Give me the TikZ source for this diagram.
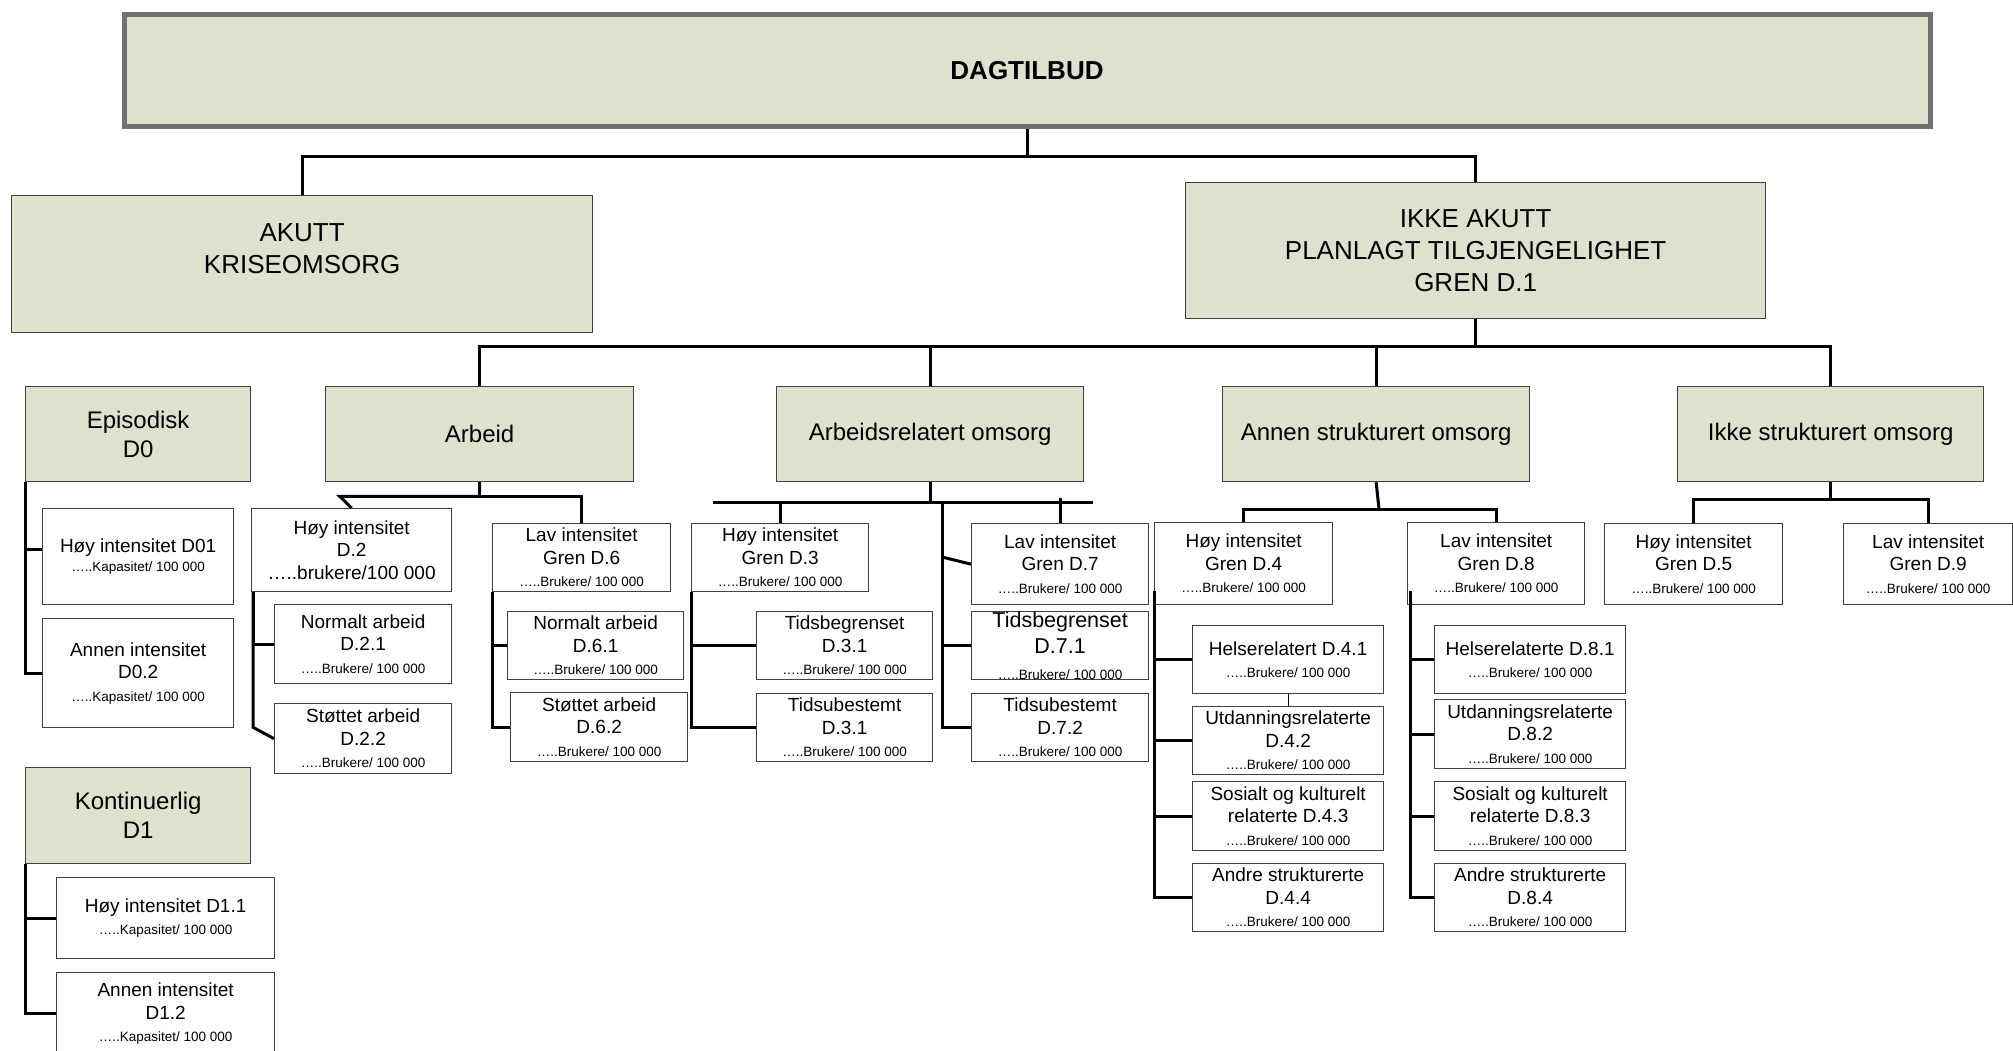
\documentclass[tikz,border=0pt]{standalone}
\usepackage{fontspec}
\setmainfont{Liberation Sans}
\definecolor{boxfill}{RGB}{222,226,204}
\definecolor{bord}{RGB}{64,64,64}
\definecolor{topbord}{RGB}{112,112,112}
\newcommand\smalltxt[1]{{\fontsize{13.5}{16}\selectfont #1}}
\newcommand\bx[7]{\node[#1, minimum width={#5-#3}, minimum height={#6-#4}, anchor=north west] (#2) at (#3,#4) {#7};}
\begin{document}
\begin{tikzpicture}[x=1pt,y=-1pt,
  topbox/.style={fill=boxfill, draw=topbord, line width=5pt, inner sep=0pt, font=\fontsize{26}{30}\selectfont\bfseries},
  gbig/.style={fill=boxfill, draw=bord, line width=1.3pt, inner sep=0pt, align=center, font=\fontsize{26}{32}\selectfont},
  gmid/.style={fill=boxfill, draw=bord, line width=1.3pt, inner sep=0pt, align=center, font=\fontsize{24}{29}\selectfont},
  wbox/.style={fill=white, draw=bord, line width=1.3pt, inner sep=0pt, align=center, font=\fontsize{19}{22.5}\selectfont},
  conn/.style={line width=3pt, black},
  thinconn/.style={line width=1pt, black}]
\useasboundingbox (0,0) rectangle (2013,1051);

% level 1
\bx{topbox}{dag}{121.5}{12.5}{1927.5}{124.5}{DAGTILBUD}
% level 2
\bx{gbig}{akutt}{11}{195}{592}{332}{AKUTT\\KRISEOMSORG\\\phantom{A}}
\bx{gbig}{ikke}{1185}{182}{1765}{318}{IKKE AKUTT\\PLANLAGT TILGJENGELIGHET\\GREN D.1}
% level 3
\bx{gmid}{epi}{25}{386}{250}{481}{Episodisk\\D0}
\bx{gmid}{arbeid}{325}{386}{633}{481}{Arbeid}
\bx{gmid}{arbrel}{776}{386}{1083}{481}{Arbeidsrelatert omsorg}
\bx{gmid}{annen}{1222}{386}{1529}{481}{Annen strukturert omsorg}
\bx{gmid}{ikkes}{1677}{386}{1983}{481}{Ikke strukturert omsorg}
\bx{gmid}{kont}{25}{767}{250}{863}{Kontinuerlig\\D1}
% level 4: episodisk / kontinuerlig
\bx{wbox}{d01}{42}{508}{233}{604}{Høy intensitet D01\\[-3pt]\smalltxt{…..Kapasitet/ 100 000}}
\bx{wbox}{d02}{42}{618}{233}{727}{Annen intensitet\\D0.2\\\smalltxt{…..Kapasitet/ 100 000}}
\bx{wbox}{d11}{56}{877}{274}{958}{Høy intensitet D1.1\\\smalltxt{…..Kapasitet/ 100 000}}
\bx{wbox}{d12}{56}{972}{274}{1054}{Annen intensitet\\D1.2\\\smalltxt{…..Kapasitet/ 100 000}}
% arbeid
\bx{wbox}{d2}{251}{508}{451}{591}{Høy intensitet\\D.2\\…..brukere/100 000}
\bx{wbox}{d21}{274}{604}{451}{683}{Normalt arbeid\\D.2.1\\\smalltxt{…..Brukere/ 100 000}}
\bx{wbox}{d22}{274}{703}{451}{773}{Støttet arbeid\\D.2.2\\\smalltxt{…..Brukere/ 100 000}}
\bx{wbox}{d6}{492}{523}{670}{591}{Lav intensitet\\Gren D.6\\\smalltxt{…..Brukere/ 100 000}}
\bx{wbox}{d61}{507}{611}{683}{679}{Normalt arbeid\\D.6.1\\\smalltxt{…..Brukere/ 100 000}}
\bx{wbox}{d62}{510}{692}{687}{761}{Støttet arbeid\\D.6.2\\\smalltxt{…..Brukere/ 100 000}}
% arbeidsrelatert
\bx{wbox}{d3}{691}{523}{868}{591}{Høy intensitet\\Gren D.3\\\smalltxt{…..Brukere/ 100 000}}
\bx{wbox}{d31}{756}{611}{932}{679}{Tidsbegrenset\\D.3.1\\\smalltxt{…..Brukere/ 100 000}}
\bx{wbox}{d32}{756}{693}{932}{761}{Tidsubestemt\\D.3.1\\\smalltxt{…..Brukere/ 100 000}}
\bx{wbox}{d7}{971}{523}{1148}{604}{Lav intensitet\\Gren D.7\\\smalltxt{…..Brukere/ 100 000}}
\bx{wbox, font=\fontsize{21.5}{26}\selectfont}{d71}{971}{611}{1148}{679}{Tidsbegrenset\\D.7.1\\\smalltxt{…..Brukere/ 100 000}}
\bx{wbox}{d72}{971}{693}{1148}{761}{Tidsubestemt\\D.7.2\\\smalltxt{…..Brukere/ 100 000}}
% annen strukturert
\bx{wbox}{d4}{1154}{522}{1332}{604}{Høy intensitet\\Gren D.4\\\smalltxt{…..Brukere/ 100 000}}
\bx{wbox}{d41}{1192}{625}{1383}{693}{Helserelatert D.4.1\\\smalltxt{…..Brukere/ 100 000}}
\bx{wbox}{d42}{1192}{706}{1383}{774}{Utdanningsrelaterte\\D.4.2\\\smalltxt{…..Brukere/ 100 000}}
\bx{wbox}{d43}{1192}{781}{1383}{850}{Sosialt og kulturelt\\relaterte D.4.3\\\smalltxt{…..Brukere/ 100 000}}
\bx{wbox}{d44}{1192}{863}{1383}{931}{Andre strukturerte\\D.4.4\\\smalltxt{…..Brukere/ 100 000}}
\bx{wbox}{d8}{1407}{522}{1584}{604}{Lav intensitet\\Gren D.8\\\smalltxt{…..Brukere/ 100 000}}
\bx{wbox}{d81}{1434}{625}{1625}{693}{Helserelaterte D.8.1\\\smalltxt{…..Brukere/ 100 000}}
\bx{wbox}{d82}{1434}{699}{1625}{768}{Utdanningsrelaterte\\D.8.2\\\smalltxt{…..Brukere/ 100 000}}
\bx{wbox}{d83}{1434}{781}{1625}{850}{Sosialt og kulturelt\\relaterte D.8.3\\\smalltxt{…..Brukere/ 100 000}}
\bx{wbox}{d84}{1434}{863}{1625}{931}{Andre strukturerte\\D.8.4\\\smalltxt{…..Brukere/ 100 000}}
% ikke strukturert
\bx{wbox}{d5}{1604}{523}{1782}{604}{Høy intensitet\\Gren D.5\\\smalltxt{…..Brukere/ 100 000}}
\bx{wbox}{d9}{1843}{523}{2012}{604}{Lav intensitet\\Gren D.9\\\smalltxt{…..Brukere/ 100 000}}

% junction coordinates
\coordinate (arl) at (713,502);
\coordinate (arr) at (1093,502);
\coordinate (arm) at (942,502);
\coordinate (anj) at (1379,509);

% connectors
\draw[conn] (dag.south) -- ++(0,27) -| (akutt.north);
\draw[conn] (dag.south) -- ++(0,27) -| (ikke.north);
\draw[conn] (ikke.south) -- ++(0,27) -| (arbeid.north);
\draw[conn] (ikke.south) -- ++(0,27) -| (arbrel.north);
\draw[conn] (ikke.south) -- ++(0,27) -| (annen.north);
\draw[conn] (ikke.south) -- ++(0,27) -| (ikkes.north);

\draw[conn] (epi.south west) |- ([yshift=7pt]d01.west);
\draw[conn] (epi.south west) |- (d02.west);
\draw[conn] (kont.south west) |- (d11.west);
\draw[conn] (kont.south west) |- (d12.west);

\draw[conn] (arbeid.south) -- ++(0,14) -- ++(-140,0) -- (d2.north);
\draw[conn] (arbeid.south) -- ++(0,14) -| (d6.north);
\draw[conn] ([xshift=2pt]d2.south west) |- (d21.west);
\draw[conn] ([xshift=2pt]d2.south west) -- ++(0,135) -- (d22.west);
\draw[conn] (d6.south west) |- (d61.west);
\draw[conn] (d6.south west) |- (d62.west);

\draw[conn] (arbrel.south) -- (arbrel.south |- arl);
\draw[conn] (arl) -- (arr);
\draw[conn] (d3.north) -- (d3.north |- arl);
\draw[conn] (d7.north) -- ++(0,-25);
\draw[conn] (arm) |- (d72.west);
\draw[conn] (arm |- d71.west) -- (d71.west);
\draw[conn] (arm) ++(0,55) -- (d7.west);
\draw[conn] (d3.south west) |- (d31.west);
\draw[conn] (d3.south west) |- (d32.west);

\draw[conn] (annen.south) -- (anj);
\draw[conn] (d4.north) |- (anj);
\draw[conn] (anj) -| (d8.north);
\draw[conn] ([yshift=14pt]d4.south west) |- (d41.west);
\draw[conn] ([yshift=14pt]d4.south west) |- (d42.west);
\draw[conn] ([yshift=14pt]d4.south west) |- (d43.west);
\draw[conn] ([yshift=14pt]d4.south west) |- (d44.west);
\draw[thinconn] (d41.south) -- (d42.north);
\draw[conn] ([xshift=3pt,yshift=14pt]d8.south west) |- (d81.west);
\draw[conn] ([xshift=3pt,yshift=14pt]d8.south west) |- (d82.west);
\draw[conn] ([xshift=3pt,yshift=14pt]d8.south west) |- (d83.west);
\draw[conn] ([xshift=3pt,yshift=14pt]d8.south west) |- (d84.west);

\draw[conn] (ikkes.south) -- ++(0,17) -| (d5.north);
\draw[conn] (ikkes.south) -- ++(0,17) -| (d9.north);
\end{tikzpicture}
\end{document}
